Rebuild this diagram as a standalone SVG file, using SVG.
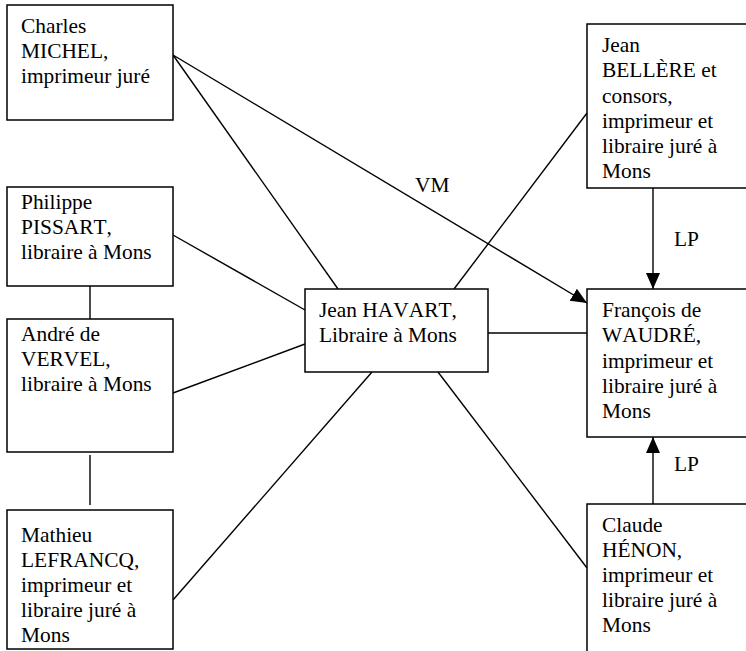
<svg xmlns="http://www.w3.org/2000/svg" width="746" height="651" viewBox="0 0 746 651">
<defs>
<marker id="ah" markerUnits="userSpaceOnUse" markerWidth="16" markerHeight="16" viewBox="0 0 16 14" refX="16" refY="7" orient="auto">
<path d="M0,0 L16,7 L0,14 Z" fill="#000"/>
</marker>
</defs>
<style>
.box{fill:#fff;stroke:#000;stroke-width:1.5}
text{font-family:'Liberation Serif','Times New Roman','DejaVu Serif',serif;font-size:21.4px;fill:#000;font-kerning:none}
.c{stroke:#000;stroke-width:1.4;fill:none}
</style>
<rect width="746" height="651" fill="#fff"/>
<g id="connectors" font-family="Liberation Serif, serif">
<line class="c" x1="173" y1="55" x2="338" y2="289"/>
<line class="c" x1="173" y1="55" x2="587" y2="303" marker-end="url(#ah)"/>
<line class="c" x1="454" y1="289" x2="587" y2="113"/>
<line class="c" x1="173" y1="235" x2="305" y2="310"/>
<line class="c" x1="173" y1="393" x2="305" y2="344"/>
<line class="c" x1="173" y1="600" x2="372" y2="372"/>
<line class="c" x1="438" y1="372" x2="587" y2="568"/>
<line class="c" x1="488" y1="333" x2="587" y2="333"/>
<line class="c" x1="90" y1="286" x2="90" y2="319"/>
<line class="c" x1="90" y1="455" x2="90" y2="505"/>
<line class="c" x1="653" y1="188" x2="653" y2="289" marker-end="url(#ah)"/>
<line class="c" x1="653" y1="504" x2="653" y2="437" marker-end="url(#ah)"/>
<text x="415" y="192">VM</text>
<text x="674" y="246">LP</text>
<text x="674" y="471">LP</text>
</g>
<g id="michel" font-family="Liberation Serif, serif">
<rect class="box" x="7" y="5" width="166" height="115"/>
<text x="21" y="33">Charles</text>
<text x="21" y="58">MICHEL,</text>
<text x="21" y="83">imprimeur juré</text>
</g>
<g id="pissart" font-family="Liberation Serif, serif">
<rect class="box" x="7" y="187" width="166" height="99"/>
<text x="21" y="209">Philippe</text>
<text x="21" y="234">PISSART,</text>
<text x="21" y="259">libraire à Mons</text>
</g>
<g id="vervel" font-family="Liberation Serif, serif">
<rect class="box" x="7" y="319" width="166" height="133"/>
<text x="21" y="341">André de</text>
<text x="21" y="366">VERVEL,</text>
<text x="21" y="391">libraire à Mons</text>
</g>
<g id="lefrancq" font-family="Liberation Serif, serif">
<rect class="box" x="7" y="510" width="166" height="139"/>
<text x="21" y="542">Mathieu</text>
<text x="21" y="567">LEFRANCQ,</text>
<text x="21" y="592">imprimeur et</text>
<text x="21" y="617">libraire juré à</text>
<text x="21" y="642">Mons</text>
</g>
<g id="havart" font-family="Liberation Serif, serif">
<rect class="box" x="305" y="289" width="183" height="83"/>
<text x="319" y="317">Jean HAVART,</text>
<text x="319" y="342">Libraire à Mons</text>
</g>
<g id="bellere" font-family="Liberation Serif, serif">
<rect class="box" x="587" y="24" width="200" height="164"/>
<text x="602" y="52">Jean</text>
<text x="602" y="77">BELLÈRE et</text>
<text x="602" y="102.5">consors,</text>
<text x="602" y="128">imprimeur et</text>
<text x="602" y="153">libraire juré à</text>
<text x="602" y="178">Mons</text>
</g>
<g id="waudre" font-family="Liberation Serif, serif">
<rect class="box" x="587" y="289" width="200" height="148"/>
<text x="602" y="317">François de</text>
<text x="602" y="342">WAUDRÉ,</text>
<text x="602" y="368">imprimeur et</text>
<text x="602" y="393">libraire juré à</text>
<text x="602" y="418">Mons</text>
</g>
<g id="henon" font-family="Liberation Serif, serif">
<rect class="box" x="587" y="504" width="200" height="200"/>
<text x="602" y="532">Claude</text>
<text x="602" y="557">HÉNON,</text>
<text x="602" y="582">imprimeur et</text>
<text x="602" y="607">libraire juré à</text>
<text x="602" y="632">Mons</text>
</g>
</svg>
